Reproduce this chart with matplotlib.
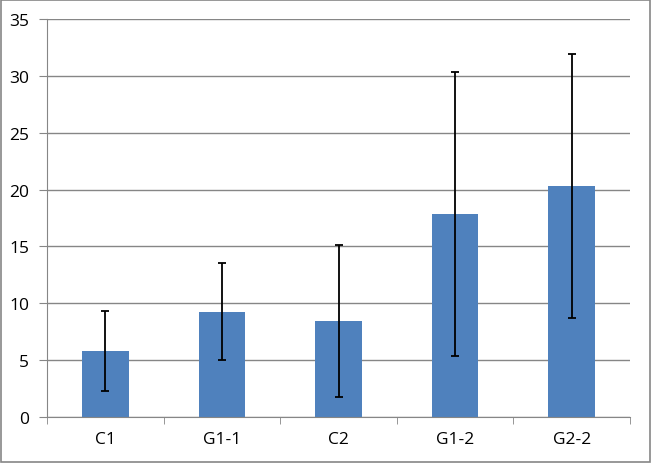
import matplotlib
matplotlib.use("Agg")
import matplotlib.pyplot as plt
from matplotlib.patches import Rectangle

categories = ["C1", "G1-1", "C2", "G1-2", "G2-2"]
means = [5.8, 9.25, 8.45, 17.85, 20.3]
errors = [3.55, 4.25, 6.65, 12.5, 11.6]

plt.rcParams['font.family'] = ['Open Sans', 'DejaVu Sans']

fig = plt.figure(figsize=(6.51, 4.64), dpi=100)
ax = fig.add_axes([47 / 651, 46 / 464, 583 / 651, 398 / 464])

x = list(range(len(categories)))
ax.bar(x, means, width=0.4, color="#4f81bd", zorder=2)
ax.errorbar(x, means, yerr=errors, fmt="none", ecolor="black",
            elinewidth=1.3, capsize=3, capthick=1.3, zorder=3)

ax.set_xlim(-0.5, len(categories) - 0.5)
ax.set_ylim(0, 35)
ax.set_yticks(range(0, 36, 5))
ax.set_xticks(x)
ax.set_xticklabels(categories)
ax.set_xticks([i + 0.5 for i in range(-1, len(categories))], minor=True)
ax.tick_params(axis="x", which="major", length=0, pad=10, labelsize=12.5)
ax.tick_params(axis="x", which="minor", length=5, color="#868686", direction="out")
ax.tick_params(axis="y", length=6, color="#868686", labelsize=12.5, pad=7)
ax.yaxis.grid(True, color="#868686", linewidth=1, zorder=0)
ax.set_axisbelow(True)

for side in ["top", "right"]:
    ax.spines[side].set_visible(False)
for side in ["left", "bottom"]:
    ax.spines[side].set_color("#868686")

fig.patches.append(Rectangle((0.002, 0.002), 0.996, 0.995, transform=fig.transFigure,
                             fill=False, edgecolor="#868686", linewidth=1.2))

fig.savefig("out.png", dpi=100)
